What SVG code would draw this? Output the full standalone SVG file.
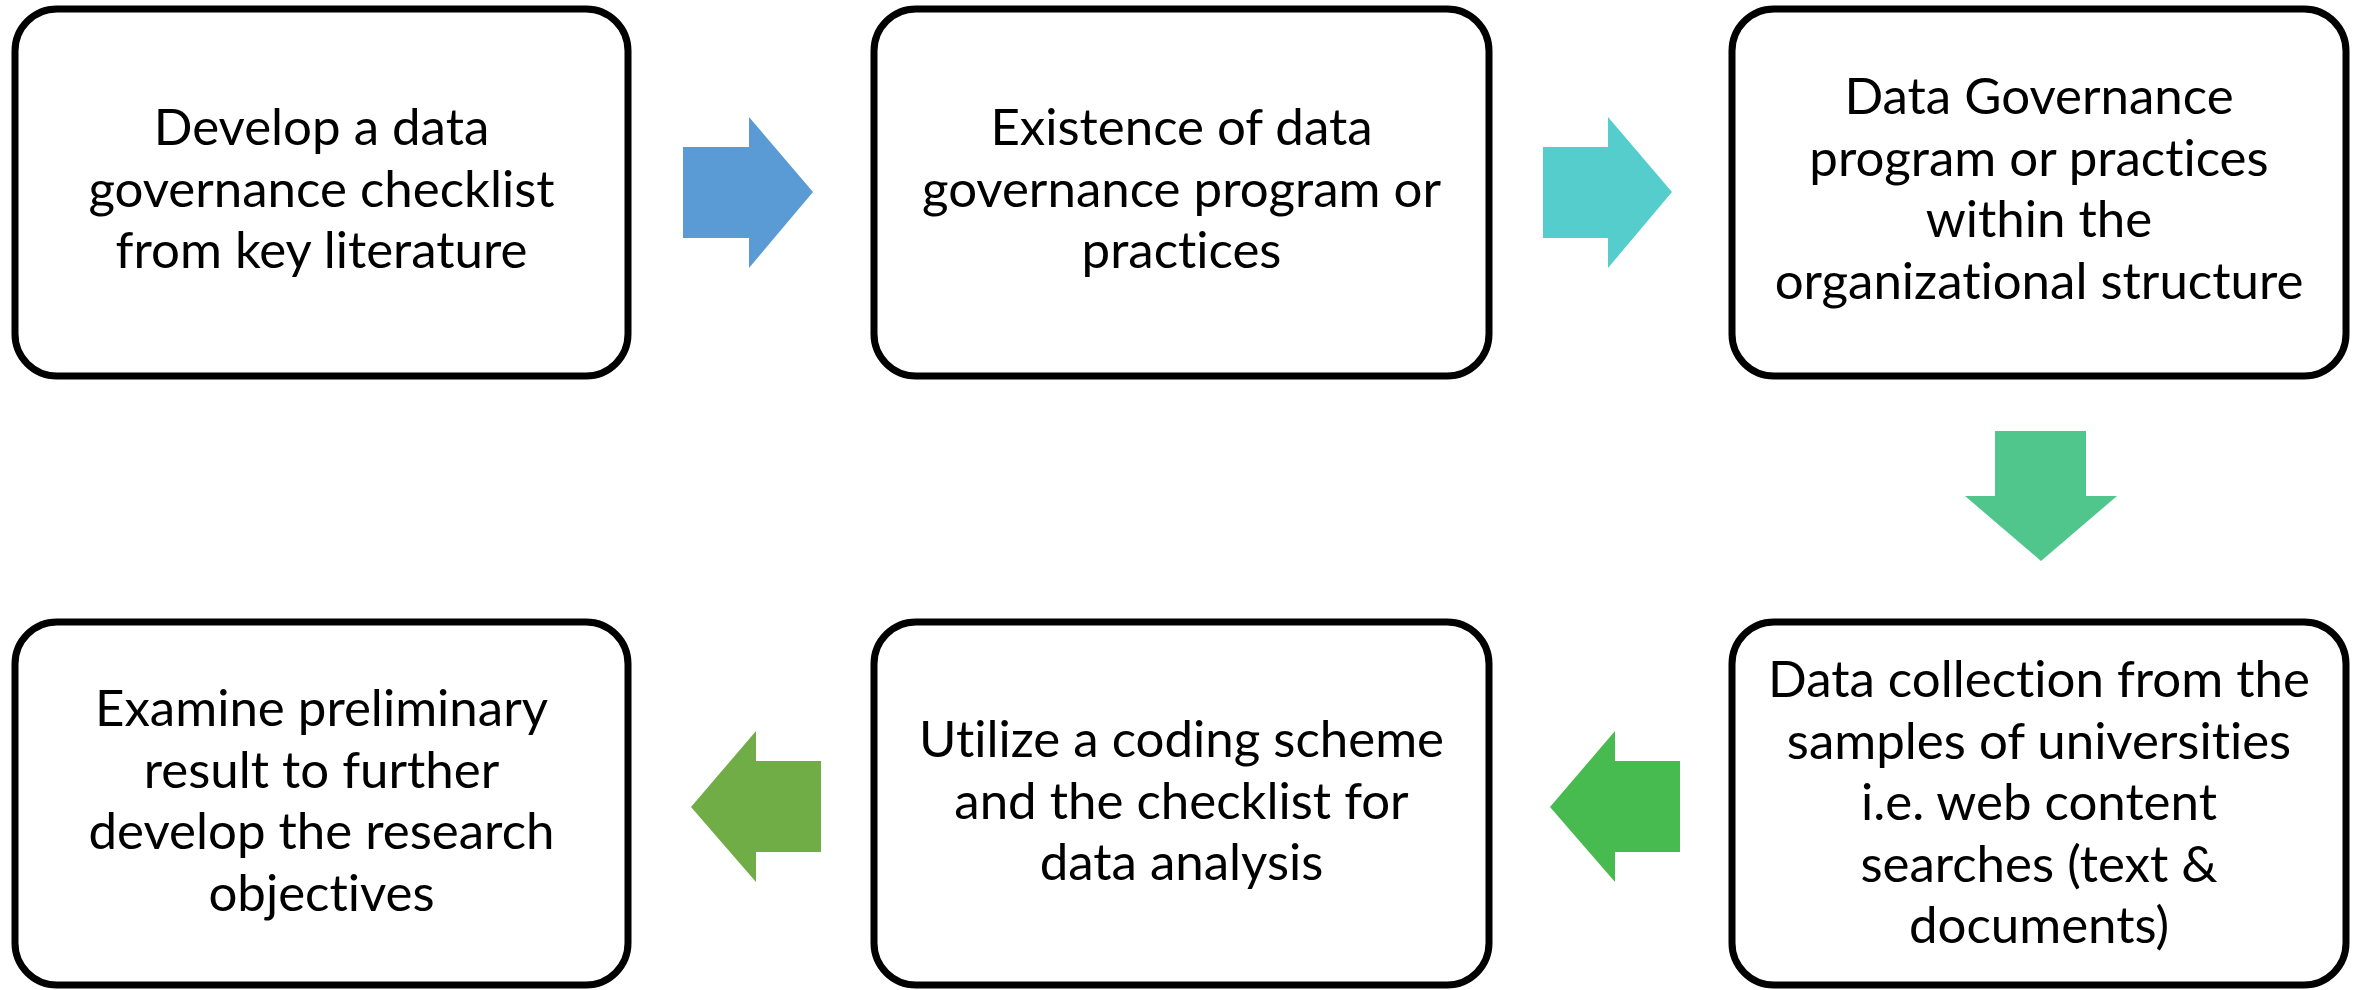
<svg xmlns="http://www.w3.org/2000/svg" width="2364" height="990" viewBox="0 0 2364 990">
<style>
.box{fill:#fff;stroke:#000;stroke-width:7}
.t{font-family:Lato,"Open Sans","Liberation Sans",sans-serif;font-size:51px;fill:#000;text-anchor:middle;font-variant-ligatures:none;font-feature-settings:"liga" 0,"dlig" 0}
</style>
<rect x="0" y="0" width="2364" height="990" fill="#fff"/>
<g id="n1"><rect class="box" x="15" y="9" width="613" height="367" rx="42"/>
<text class="t"><tspan x="321.5" y="145">Develop a data</tspan><tspan x="321.5" y="206.5">governance checklist</tspan><tspan x="321.5" y="268">from key literature</tspan></text></g>
<g id="n2"><rect class="box" x="874" y="9" width="615" height="367" rx="42"/>
<text class="t"><tspan x="1181.5" y="145">Existence of data</tspan><tspan x="1181.5" y="206.5">governance program or</tspan><tspan x="1181.5" y="268">practices</tspan></text></g>
<g id="n3"><rect class="box" x="1732" y="9" width="614" height="367" rx="42"/>
<text class="t"><tspan x="2039" y="114">Data Governance</tspan><tspan x="2039" y="175.5">program or practices</tspan><tspan x="2039" y="237">within the</tspan><tspan x="2039" y="298.5">organizational structure</tspan></text></g>
<g id="n6"><rect class="box" x="1732" y="622" width="614" height="363" rx="42"/>
<text class="t"><tspan x="2039" y="697">Data collection from the</tspan><tspan x="2039" y="758.5">samples of universities</tspan><tspan x="2039" y="820">i.e. web content</tspan><tspan x="2039" y="881.5">searches (text &amp;</tspan><tspan x="2039" y="943">documents)</tspan></text></g>
<g id="n5"><rect class="box" x="874" y="622" width="615" height="363" rx="42"/>
<text class="t"><tspan x="1181.5" y="757">Utilize a coding scheme</tspan><tspan x="1181.5" y="818.5">and the checklist for</tspan><tspan x="1181.5" y="880">data analysis</tspan></text></g>
<g id="n4"><rect class="box" x="15" y="622" width="613" height="363" rx="42"/>
<text class="t"><tspan x="321.5" y="726">Examine preliminary</tspan><tspan x="321.5" y="787.5">result to further</tspan><tspan x="321.5" y="849">develop the research</tspan><tspan x="321.5" y="910.5">objectives</tspan></text></g>
<g id="connectors">
<polygon fill="#5B9BD5" points="683,147 749,147 749,117 813,192 749,268 749,238 683,238"/>
<polygon fill="#56CDCD" points="1543,147 1608,147 1608,117 1672,192 1608,268 1608,238 1543,238"/>
<polygon fill="#50C68C" points="1995,431 2086,431 2086,496 2117,496 2041,561 1965,496 1995,496"/>
<polygon fill="#48BB50" points="1680,761 1615,761 1615,731 1550,807 1615,882 1615,852 1680,852"/>
<polygon fill="#70AD47" points="821,761 756,761 756,731 691,807 756,882 756,852 821,852"/>
</g>
</svg>
